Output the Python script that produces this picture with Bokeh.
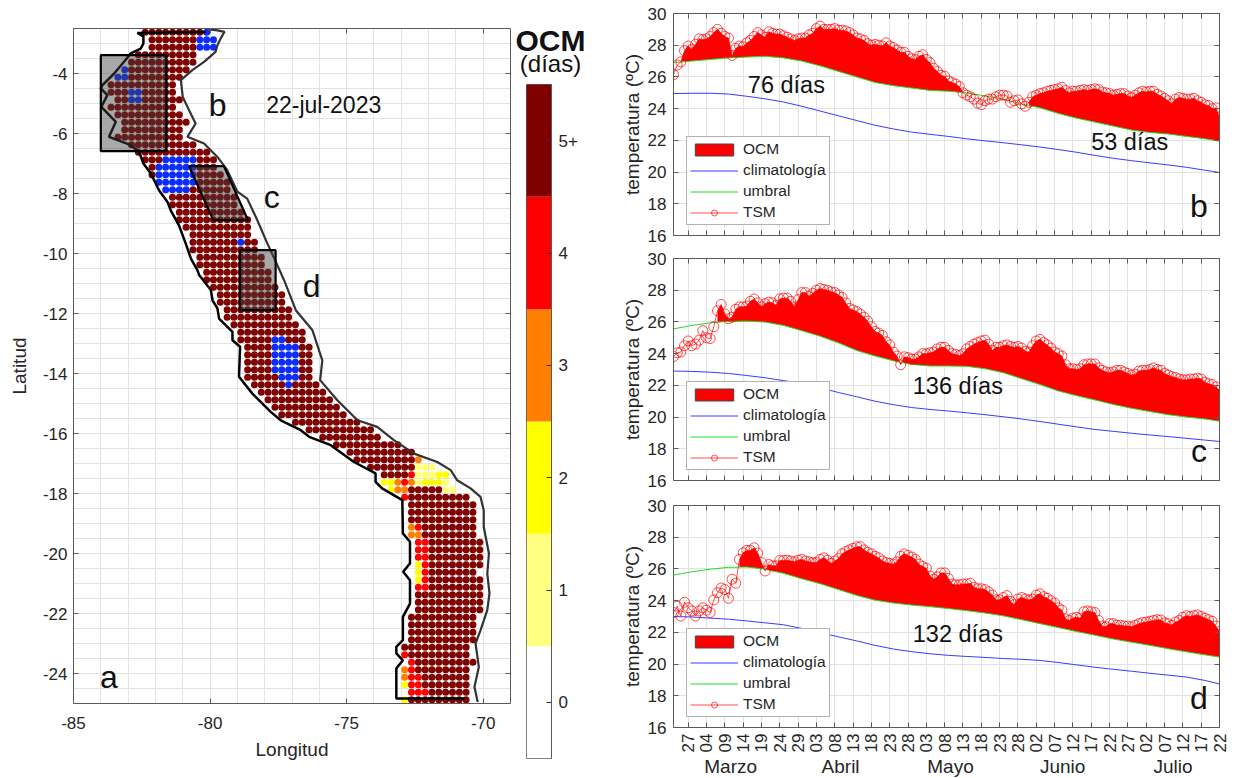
from math import pi
from bokeh.plotting import figure
from bokeh.layouts import row, column
from bokeh.models import (Range1d, FixedTicker, LinearAxis, Label, Legend, LegendItem)
from bokeh.embed import file_html
from bokeh.resources import INLINE

FONT = "Liberation Sans"
TXT = "#262626"
AX = "#5a5a5a"
GRID = "#e2e2e2"

# ---------- map: grid cells (row index from north, column index from west) ----------
lat_norte = -2.625
lon_oeste = -84.875
paso = 0.25
fila_inicio = [10,11,11,9,8,7,6,5,5,6,5,6,7,7,6,8,9,10,11,11,12,13,14,14,15,15,16,17,17,17,
               18,18,19,19,20,21,21,22,22,23,24,24,25,25,25,25,25,26,27,28,29,30,32,34,36,38,40,41,43,45,
               45,46,48,49,49,49,49,49,50,50,50,50,50,50,50,50,50,50,49,49,49,49,48,48,49,48,48,48,49,48]
fila_fin = [18,17,17,17,17,16,15,14,14,15,14,15,16,15,15,17,19,20,20,21,22,22,23,23,24,25,25,25,26,26,
            27,27,28,28,29,30,30,31,31,32,33,33,34,34,34,34,34,35,36,37,38,39,41,43,44,47,49,50,52,54,
            54,55,57,58,58,58,58,58,59,59,59,59,58,59,59,59,59,59,58,58,58,58,57,57,58,57,57,57,57,57]
# (row, first column, last column)
celdas_azul = [(0,19,19),(1,18,20),(2,18,20),(5,7,7),(6,6,7),(8,8,9),(9,8,9),(17,13,17),(18,12,17),
               (19,12,17),(20,12,17),(21,13,16),(28,24,24),(41,29,30),(42,29,32),(43,29,32),(44,29,32),
               (45,29,32),(46,30,32),(47,31,31)]
celdas_1 = [(58,50,52),(59,50,52),(60,50,50),(60,54,54),(61,54,55)]
celdas_2 = [(59,53,54),(60,45,46),(60,51,53),(61,46,46),(71,50,50),(72,50,50),(73,50,50),(87,48,48),(89,48,48)]
celdas_3 = [(57,50,50),(60,47,47),(60,49,49),(61,47,48),(66,49,49),(67,49,50),(85,48,48),(86,48,48)]
celdas_4 = [(59,49,49),(60,48,48),(62,48,48),(66,50,50),(68,50,51),(69,50,51),(70,50,51),(71,51,51),
            (72,51,51),(73,51,51),(74,50,51),(83,48,48),(84,49,49),(85,49,49),(86,49,50),(87,49,50),(88,49,51)]

lim_lon = [-80.16,-82.66,-82.44,-82.44,-82.54,-82.9,-83.15,-83.51,-83.94,-84.0,-83.76,-83.98,-83.45,-83.7,
           -82.9,-82.6,-82.44,-82.17,-81.87,-81.56,-81.44,-81.14,-80.89,-80.70,-80.46,-80.40,-79.97,-79.91,
           -79.73,-79.67,-79.18,-79.18,-78.9,-78.94,-78.45,-77.78,-77.41,-76.68,-76.37,-75.58,-74.73,-73.94,
           -73.94,-73.70,-72.96,-72.94,-72.68,-72.68,-72.93,-72.68,-72.68,-72.94,-72.94,-73.18,-73.18,-72.94,
           -73.18,-73.18,-70.65]
lim_lat = [-2.62,-2.65,-2.76,-3.0,-3.17,-3.33,-3.61,-4.0,-4.39,-4.5,-4.72,-5.11,-5.61,-6.11,
           -6.39,-6.61,-7.0,-7.33,-7.89,-8.28,-8.56,-9.06,-9.67,-10.17,-10.56,-10.72,-11.22,-11.56,
           -11.83,-12.17,-12.61,-12.89,-13.11,-14.11,-14.67,-15.28,-15.56,-15.89,-16.11,-16.39,-16.95,-17.33,
           -17.61,-17.83,-18.22,-19.33,-19.61,-20.33,-20.61,-20.89,-21.67,-22.11,-22.89,-23.11,-23.33,-23.56,
           -23.83,-24.83,-24.83]
costa_lon = [-80.04,-79.73,-79.47,-79.61,-79.73,-79.8,-80.22,-80.65,-81.07,-81.0,-80.71,-80.53,-80.83,-80.22,
             -79.73,-79.37,-79.0,-78.64,-78.27,-77.9,-77.59,-77.29,-76.86,-76.25,-75.89,-75.97,-75.34,-74.6,
             -73.88,-73.27,-72.53,-71.68,-71.19,-70.95,-70.46,-70.1,-69.98,-69.98,-69.79,-69.85,-69.77,-69.85,
             -70.1,-70.28,-70.16,-70.32,-70.2]
costa_lat = [-2.53,-2.56,-2.61,-2.83,-3.06,-3.28,-3.61,-3.89,-4.22,-4.78,-5.33,-5.67,-6.11,-6.33,
             -6.78,-7.22,-7.94,-8.17,-8.89,-9.67,-10.28,-10.89,-11.89,-12.56,-13.56,-14.22,-14.89,-15.56,
             -15.78,-16.22,-16.67,-16.95,-17.22,-17.56,-17.83,-18.11,-18.56,-19.11,-20.0,-20.67,-21.33,-21.89,
             -22.56,-23.0,-23.78,-24.45,-24.95]
caja_b_lon = [-84.0,-81.6,-81.6,-84.0]
caja_b_lat = [-3.39,-3.39,-6.59,-6.59]
caja_c_lon = [-80.77,-79.49,-78.61,-79.88]
caja_c_lat = [-7.09,-7.09,-8.89,-8.89]
caja_d_lon = [-78.91,-77.6,-77.6,-78.91]
caja_d_lat = [-9.89,-9.89,-11.89,-11.89]

# ---------- colour bar ----------
cb_valores = [0, 1, 2, 3, 4, 5]
cb_etiquetas = ["0", "1", "2", "3", "4", "5+"]
cb_colores = ["#ffffff", "#ffff80", "#ffff00", "#ff8000", "#ff0000", "#800000"]

# ---------- series ----------
dias_tick = [4,9,14,19,24,29,34,39,44,49,54,59,64,69,74,79,84,89,94,99,104,109,114,119,124,129,134,139,144,149]
tick_etiq = ["27","04","09","14","19","24","29","03","08","13","18","23","28","03","08","13","18","23","28",
             "02","07","12","17","22","27","02","07","12","17","22"]
meses = ["Marzo", "Abril", "Mayo", "Junio", "Julio"]
meses_dia = [15.6, 45.6, 75.6, 106.2, 136.3]

dias_nodo = [0,5,10,15,20,25,30,35,40,45,50,55,60,65,70,75,80,85,90,95,100,105,110,115,120,125,130,135,140,145,149]

clim_b = [24.95,24.97,24.97,24.92,24.78,24.62,24.42,24.15,23.85,23.55,23.25,22.95,22.72,22.52,22.38,22.25,22.1,21.97,21.85,21.72,21.58,21.42,21.25,21.05,20.87,20.72,20.58,20.45,20.3,20.12,19.97]
umb_b = [26.9,27.0,27.1,27.2,27.25,27.3,27.2,27.0,26.7,26.35,26.0,25.65,25.45,25.3,25.15,25.1,25.0,24.8,24.6,24.3,24.05,23.7,23.4,23.15,22.9,22.65,22.5,22.4,22.25,22.1,21.95]
tsm_b = [26.15,26.75,26.95,27.65,27.95,27.75,28.05,28.4,28.35,28.4,28.55,28.8,29.0,28.75,28.55,28.45,27.35,27.8,27.95,27.9,
         28.15,28.3,28.55,28.8,28.65,28.5,28.85,28.75,28.7,28.7,28.6,28.5,28.4,28.3,28.4,28.45,28.45,28.65,28.75,29.05,
         29.2,29.0,29.0,29.0,29.05,28.95,28.95,28.9,28.8,28.65,28.45,28.4,28.3,28.1,28.0,28.05,28.0,27.95,28.15,27.95,
         27.85,27.7,27.55,27.55,27.3,27.15,27.1,27.3,27.4,27.1,26.9,26.55,26.35,26.1,26.05,25.75,25.65,25.55,25.4,25.0,
         24.85,24.75,24.6,24.35,24.25,24.5,24.6,24.6,24.75,24.85,24.85,24.8,24.4,24.5,24.55,24.3,24.15,24.4,24.75,24.85,
         24.95,25.0,25.1,25.15,25.2,25.25,25.35,25.15,25.0,25.1,25.1,25.15,25.2,25.15,25.2,25.25,25.2,25.05,25.0,24.95,
         24.85,24.9,24.95,24.95,24.8,24.7,24.85,25.0,25.1,25.05,25.1,25.1,24.9,24.8,24.65,24.5,24.3,24.6,24.7,24.65,
         24.6,24.6,24.65,24.5,24.4,24.25,24.2,24.0,24.05,23.45]
evento_b = [(2, 79, 26.95, 25.0), (97, 149, 24.2, 21.95)]

clim_c = [22.9,22.88,22.83,22.75,22.62,22.48,22.3,22.12,21.85,21.55,21.28,21.0,20.78,20.6,20.48,20.38,20.27,20.15,20.02,19.88,19.72,19.55,19.38,19.22,19.1,18.98,18.87,18.77,18.66,18.55,18.46]
umb_c = [25.56,25.78,25.94,26.03,26.05,25.99,25.78,25.45,25.1,24.68,24.2,23.85,23.55,23.32,23.22,23.22,23.2,23.05,22.8,22.42,22.05,21.65,21.35,21.08,20.8,20.55,20.35,20.15,20.0,19.88,19.74]
tsm_c = [23.82,24.05,24.1,24.5,24.8,24.5,24.6,24.85,25.45,25.0,24.95,25.7,26.7,27.1,26.5,26.2,26.3,26.8,26.95,26.95,
         27.0,27.3,27.45,27.2,26.95,27.15,27.25,27.2,27.05,27.45,27.5,27.5,27.3,26.95,27.4,27.85,27.85,27.6,27.8,28.0,
         28.1,28.05,28.0,27.9,27.85,27.7,27.55,27.2,26.85,26.75,26.65,26.5,26.3,26.05,25.7,25.4,25.3,25.15,24.75,24.55,
         24.1,23.85,23.3,23.8,23.75,23.65,23.65,23.8,24.0,24.0,24.05,24.1,24.3,24.4,24.4,24.2,24.0,23.95,23.88,24.0,
         24.3,24.45,24.6,24.7,24.8,24.85,24.6,24.2,24.4,24.4,24.5,24.55,24.45,24.4,24.45,24.35,24.15,24.1,24.5,24.8,
         24.9,24.7,24.55,24.35,24.1,24.0,23.85,23.3,23.05,23.05,23.0,23.05,23.3,23.35,23.35,23.35,23.1,22.95,22.85,22.8,
         22.85,22.95,22.95,22.85,22.75,22.65,22.7,22.9,22.95,22.95,23.0,23.1,23.0,22.95,22.75,22.65,22.55,22.5,22.4,22.35,
         22.35,22.4,22.4,22.45,22.4,22.2,22.1,22.05,21.9,21.7]
evento_c = [(12, 149, 26.0, 19.74)]

clim_d = [23.0,22.97,22.9,22.83,22.72,22.6,22.48,22.25,21.98,21.72,21.46,21.18,20.95,20.78,20.65,20.55,20.48,20.42,20.35,20.3,20.23,20.1,19.95,19.8,19.67,19.55,19.42,19.3,19.18,18.97,18.75]
umb_d = [25.61,25.82,25.98,26.1,26.12,25.98,25.72,25.38,25.07,24.7,24.33,24.03,23.85,23.72,23.62,23.5,23.37,23.22,23.04,22.8,22.55,22.3,22.05,21.82,21.58,21.38,21.18,20.97,20.77,20.58,20.44]
tsm_d = [23.25,23.65,23.03,23.9,23.55,23.35,23.03,23.35,23.55,23.4,23.25,24.05,24.5,24.8,24.7,24.15,25.35,25.1,26.6,27.02,
         27.17,27.17,27.33,27.0,26.4,25.87,26.28,26.2,26.2,26.53,26.53,26.55,26.5,26.45,26.55,26.6,26.5,26.45,26.4,26.4,
         26.6,26.7,26.55,26.35,26.5,26.65,26.95,27.1,27.2,27.3,27.4,27.4,27.2,27.05,26.95,26.8,26.7,26.5,26.4,26.35,
         26.3,26.45,26.8,26.95,26.85,26.75,26.6,26.3,26.15,26.05,25.55,25.35,25.5,25.75,25.75,25.4,25.05,25.0,25.0,25.05,
         25.05,25.1,24.85,24.75,24.75,24.7,24.55,24.35,24.05,24.05,24.2,24.32,23.95,23.75,24.1,24.2,24.1,24.05,24.1,24.35,
         24.43,24.25,24.15,24.0,23.85,23.55,23.4,22.85,22.75,22.9,22.95,22.9,23.3,23.35,23.3,23.25,22.75,22.4,22.35,22.55,
         22.55,22.45,22.45,22.4,22.4,22.35,22.45,22.55,22.62,22.65,22.7,22.75,22.8,22.78,22.6,22.55,22.45,22.65,22.75,22.95,
         23.05,23.0,23.05,23.1,23.0,22.9,22.8,22.7,22.4,22.05]
evento_d = [(18, 149, 26.12, 20.44)]


def marco_ticks(p, xt, yt):
    """MATLAB-style box: inward ticks on all four sides."""
    p.add_layout(LinearAxis(ticker=FixedTicker(ticks=xt), major_label_overrides={t: "" for t in xt},
                            major_label_text_font_size="1px", major_label_standoff=0,
                            major_tick_in=5, major_tick_out=0, major_tick_line_color=AX,
                            minor_tick_line_color=None, axis_line_color=AX), "above")
    p.add_layout(LinearAxis(ticker=FixedTicker(ticks=yt), major_label_overrides={t: "" for t in yt},
                            major_label_text_font_size="1px", major_label_standoff=0,
                            major_tick_in=5, major_tick_out=0, major_tick_line_color=AX,
                            minor_tick_line_color=None, axis_line_color=AX), "right")


def estilo_eje(ax, size="17px"):
    ax.major_tick_in = 5
    ax.major_tick_out = 0
    ax.minor_tick_line_color = None
    ax.major_tick_line_color = AX
    ax.axis_line_color = AX
    ax.major_label_text_font = FONT
    ax.major_label_text_font_size = size
    ax.major_label_text_color = TXT
    ax.axis_label_text_font = FONT
    ax.axis_label_text_font_size = "19px"
    ax.axis_label_text_font_style = "normal"
    ax.axis_label_text_color = TXT


def texto(p, x, y, s, size, bold=False, lado=None):
    lab = Label(x=x, y=y, text=s, text_font=FONT, text_font_size=size, text_color="#111111",
                text_align="center", text_baseline="middle",
                text_font_style="bold" if bold else "normal")
    if lado:
        p.add_layout(lab, lado)
    else:
        p.add_layout(lab)


# ---------- map figure ----------
m = figure(frame_width=437, frame_height=675, x_range=Range1d(-85, -69), y_range=Range1d(-25, -2.5),
           output_backend="svg", toolbar_location=None, min_border_left=73, min_border_right=6,
           min_border_top=28, min_border_bottom=75, outline_line_color=None, background_fill_color="white",
           x_axis_label="Longitud", y_axis_label="Latitud")
xt_m = [-85, -80, -75, -70]
yt_m = [-4, -6, -8, -10, -12, -14, -16, -18, -20, -22, -24]
m.xaxis.ticker = FixedTicker(ticks=xt_m)
m.yaxis.ticker = FixedTicker(ticks=yt_m)
m.xaxis.major_label_overrides = {t: str(t) for t in xt_m}
m.yaxis.major_label_overrides = {t: str(t) for t in yt_m}
estilo_eje(m.xaxis[0]); estilo_eje(m.yaxis[0])
m.xaxis.major_label_standoff = 13
m.xaxis.axis_label_standoff = 7
m.yaxis.major_label_standoff = 6
m.yaxis.axis_label_standoff = 10
m.xgrid[0].ticker = FixedTicker(ticks=[-85 + k for k in range(17)])
m.ygrid[0].ticker = FixedTicker(ticks=[-25 + 0.5 * k for k in range(46)])
m.xgrid.grid_line_color = GRID
m.ygrid.grid_line_color = GRID
marco_ticks(m, xt_m, yt_m)

colores = {}
for i, (a, b) in enumerate(zip(fila_inicio, fila_fin)):
    for j in range(a, b + 1):
        colores[(i, j)] = "#800000"
for lista, col in ((celdas_azul, "#0a2cff"), (celdas_1, cb_colores[1]), (celdas_2, cb_colores[2]),
                   (celdas_3, cb_colores[3]), (celdas_4, cb_colores[4])):
    for i, a, b in lista:
        for j in range(a, b + 1):
            colores[(i, j)] = col
mx = [lon_oeste + paso * j for (i, j) in colores]
my = [lat_norte - paso * i for (i, j) in colores]
mc = list(colores.values())
m.scatter(mx, my, size=7, fill_color=mc, line_color=None)
m.line(costa_lon, costa_lat, line_color="#333333", line_width=2.2)
m.line(lim_lon, lim_lat, line_color="#000000", line_width=2.5)
for lo, la in ((caja_b_lon, caja_b_lat), (caja_c_lon, caja_c_lat), (caja_d_lon, caja_d_lat)):
    m.patch(lo, la, fill_color="#404040", fill_alpha=0.45, line_color="#000000", line_width=2.2)
texto(m, -79.72, -5.06, "b", "32px")
texto(m, -75.84, -5.06, "22-jul-2023", "23px")
texto(m, -77.74, -8.13, "c", "32px")
texto(m, -76.28, -11.09, "d", "32px")
texto(m, -83.7, -24.12, "a", "32px")

# ---------- colour bar ----------
cb = figure(frame_width=25, frame_height=674, x_range=Range1d(0, 1), y_range=Range1d(-0.5, 5.5),
            output_backend="svg", toolbar_location=None, min_border_left=10, min_border_right=59,
            min_border_top=84, min_border_bottom=20, outline_line_color=AX,
            x_axis_location=None, y_axis_location="right")
cb.xgrid.visible = False
cb.ygrid.visible = False
cb.quad(left=0, right=1, bottom=[v - 0.5 for v in cb_valores], top=[v + 0.5 for v in cb_valores],
        fill_color=cb_colores, line_color=None)
cb.yaxis.ticker = FixedTicker(ticks=cb_valores)
cb.yaxis.major_label_overrides = dict(zip(cb_valores, cb_etiquetas))
estilo_eje(cb.yaxis[0])
cb.yaxis.major_tick_line_color = "#333333"
cb.yaxis.axis_line_color = AX
cb.yaxis.major_label_standoff = 7
texto(cb, 0.96, 5.89, "OCM", "30px", bold=True, lado="above")
texto(cb, 0.96, 5.687, "(días)", "24px", lado="above")


# ---------- time-series panels ----------
def panel(tsm, umb, clim, eventos, dias_txt, dias_xy, letra, top, bottom, eje_x):
    p = figure(frame_width=546, frame_height=222, x_range=Range1d(0, 149), y_range=Range1d(16, 30),
               output_backend="svg", toolbar_location=None, min_border_left=63, min_border_right=23,
               min_border_top=top, min_border_bottom=bottom, outline_line_color=None,
               y_axis_label="temperatura (ºC)")
    yt = list(range(16, 31, 2))
    p.yaxis.ticker = FixedTicker(ticks=yt)
    p.xaxis.ticker = FixedTicker(ticks=dias_tick)
    estilo_eje(p.xaxis[0]); estilo_eje(p.yaxis[0])
    p.yaxis.major_label_standoff = 7
    p.yaxis.axis_label_standoff = 2
    if eje_x:
        p.xaxis.major_label_overrides = dict(zip(dias_tick, tick_etiq))
        p.xaxis.major_label_orientation = pi / 2
        p.xaxis.major_label_standoff = 6
        eje_mes = LinearAxis(ticker=FixedTicker(ticks=meses_dia),
                             major_label_overrides=dict(zip(meses_dia, meses)),
                             major_label_standoff=0, major_tick_in=0, major_tick_out=0,
                             minor_tick_line_color=None, major_tick_line_color=None, axis_line_color=None,
                             major_label_text_font=FONT, major_label_text_font_size="19px",
                             major_label_text_color=TXT)
        p.add_layout(eje_mes, "below")
    else:
        p.xaxis.major_label_overrides = {t: "" for t in dias_tick}
        p.xaxis.major_label_text_font_size = "1px"
        p.xaxis.major_label_standoff = 0
    p.xgrid[0].ticker = FixedTicker(ticks=dias_tick)
    p.ygrid[0].ticker = FixedTicker(ticks=yt)
    p.xgrid.grid_line_color = GRID
    p.ygrid.grid_line_color = GRID
    marco_ticks(p, dias_tick, yt)

    dias = list(range(len(tsm)))
    xs, ys = [], []
    for s, e, bs, be in eventos:
        nod = [(d, u) for d, u in zip(dias_nodo, umb) if s < d < e]
        xs.append(dias[s:e + 1] + [e] + [d for d, u in reversed(nod)] + [s])
        ys.append(tsm[s:e + 1] + [be] + [u for d, u in reversed(nod)] + [bs])
    p.patches(xs, ys, fill_color="#ff0000", line_color=None)
    ocm_ley = p.patches([[]], [[]], fill_color="#ff0000", line_color="#444444")
    r_cl = p.line(dias_nodo, clim, line_color="#3a3aff", line_width=1)
    r_um = p.line(dias_nodo, umb, line_color="#22dd22", line_width=1)
    r_ts = p.line(dias, tsm, line_color="#ff0000", line_width=0.7)
    r_ci = p.scatter(dias, tsm, size=10, fill_color=None, line_color="#ff0000", line_width=0.7)
    ley = Legend(items=[LegendItem(label="OCM", renderers=[ocm_ley]),
                        LegendItem(label="climatología", renderers=[r_cl]),
                        LegendItem(label="umbral", renderers=[r_um]),
                        LegendItem(label="TSM", renderers=[r_ts, r_ci])],
                 location=(13, 10), orientation="vertical", padding=3, margin=0, spacing=3,
                 glyph_width=48, glyph_height=15, label_height=15, label_standoff=5,
                 label_text_font=FONT, label_text_font_size="15.5px", label_text_color=TXT,
                 border_line_color="#666666", border_line_width=1, background_fill_alpha=1)
    p.add_layout(ley)
    for s, (dx, dy) in zip(dias_txt, dias_xy):
        texto(p, dx, dy, s, "23.5px")
    texto(p, 143.4, 17.85, letra, "32px")
    return p


pb = panel(tsm_b, umb_b, clim_b, evento_b, ["76 días", "53 días"], [(30.8, 25.5), (124.5, 21.87)], "b", 13, 11, False)
pc = panel(tsm_c, umb_c, clim_c, evento_c, ["136 días"], [(77.6, 21.93)], "c", 12, 11, False)
pd = panel(tsm_d, umb_d, clim_d, evento_d, ["132 días"], [(77.6, 21.87)], "d", 14, 51, True)

layout = row(column(m), column(cb), column(pb, pc, pd, spacing=0), spacing=0)
open("out.html", "w").write(file_html(layout, INLINE))
